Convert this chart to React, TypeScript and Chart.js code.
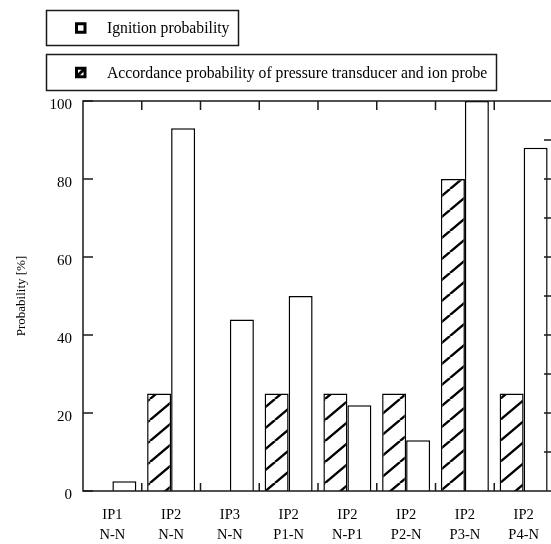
import React, { useEffect, useRef } from "react";
import { Chart, registerables } from "chart.js";

Chart.register(...registerables);

const categories: string[][] = [
  ["IP1", "N-N"],
  ["IP2", "N-N"],
  ["IP3", "N-N"],
  ["IP2", "P1-N"],
  ["IP2", "N-P1"],
  ["IP2", "P2-N"],
  ["IP2", "P3-N"],
  ["IP2", "P4-N"],
];
const accordanceProbability = [0, 25, 0, 25, 25, 25, 80, 25];
const ignitionProbability = [2.5, 93, 44, 50, 22, 13, 100, 88];
const accordanceLabel = "Accordance probability of pressure transducer and ion probe";
const ignitionLabel = "Ignition probability";
const yAxisTitle = "Probability [%]";
const yMin = 0;
const yMax = 100;
const yStep = 20;
const yMinorStep = 10;

const FONT = "'Liberation Serif', 'Times New Roman', serif";

function makeHatch(): CanvasPattern | string {
  const W = 25;
  const H = 21;
  const c = document.createElement("canvas");
  c.width = W;
  c.height = H;
  const g = c.getContext("2d");
  if (!g) return "#fff";
  g.fillStyle = "#fff";
  g.fillRect(0, 0, W, H);
  g.strokeStyle = "#000";
  g.lineWidth = 2.4;
  g.beginPath();
  for (const dx of [-W, 0, W]) {
    g.moveTo(dx, H);
    g.lineTo(dx + W, 0);
  }
  g.stroke();
  const p = g.createPattern(c, "repeat");
  return p || "#fff";
}

const framePlugin = {
  id: "frame",
  afterDatasetsDraw(chart: any) {
    const { ctx, chartArea, scales } = chart;
    const { left, right, top, bottom } = chartArea;
    const x = scales.x;
    const y = scales.y;
    ctx.save();
    ctx.strokeStyle = "#1a1a1a";
    ctx.lineWidth = 1.5;
    ctx.beginPath();
    ctx.rect(left, top, right - left, bottom - top);
    ctx.stroke();
    ctx.beginPath();
    for (let v = yMin; v <= yMax; v += yStep) {
      const py = y.getPixelForValue(v);
      ctx.moveTo(left, py);
      ctx.lineTo(left + 10, py);
    }
    for (let v = yMin + yMinorStep; v < yMax; v += yMinorStep) {
      const py = y.getPixelForValue(v);
      ctx.moveTo(right, py);
      ctx.lineTo(right - 9, py);
    }
    const n = categories.length;
    for (let i = 0; i < n - 1; i++) {
      const bx = (x.getPixelForValue(i) + x.getPixelForValue(i + 1)) / 2;
      ctx.moveTo(bx, top);
      ctx.lineTo(bx, top + 9);
      ctx.moveTo(bx, bottom);
      ctx.lineTo(bx, bottom - 8);
    }
    ctx.stroke();
    ctx.restore();
  },
};

const legendPlugin = {
  id: "boxLegend",
  afterDraw(chart: any) {
    const { ctx } = chart;
    const ds = chart.data.datasets;
    const boxes = [
      { label: ds[1].label, x: 46.5, y: 10.5, w: 192, h: 35, hatched: false },
      { label: ds[0].label, x: 46.5, y: 54.5, w: 450, h: 36, hatched: true },
    ];
    ctx.save();
    for (const b of boxes) {
      ctx.strokeStyle = "#1a1a1a";
      ctx.lineWidth = 1.5;
      ctx.strokeRect(b.x, b.y, b.w, b.h);
      const cy = b.y + b.h / 2;
      const sx = 76.5;
      const s = 8.5;
      ctx.lineWidth = 3;
      ctx.strokeStyle = "#000";
      ctx.fillStyle = "#fff";
      ctx.fillRect(sx, cy - s / 2, s, s);
      ctx.strokeRect(sx, cy - s / 2, s, s);
      if (b.hatched) {
        ctx.beginPath();
        ctx.moveTo(sx, cy + s / 2);
        ctx.lineTo(sx + s, cy - s / 2);
        ctx.stroke();
      }
      ctx.fillStyle = "#000";
      ctx.font = `15.7px ${FONT}`;
      ctx.textAlign = "left";
      ctx.textBaseline = "middle";
      ctx.fillText(b.label, 107, cy + 1);
    }
    ctx.restore();
  },
};

export default function App() {
  const ref = useRef<HTMLCanvasElement>(null);
  useEffect(() => {
    if (!ref.current) return;
    const hatch = makeHatch();
    const chart = new Chart(ref.current, {
      type: "bar",
      data: {
        labels: categories,
        datasets: [
          {
            label: accordanceLabel,
            data: accordanceProbability,
            backgroundColor: hatch as any,
            borderColor: "#000",
            borderWidth: 1.5,
            borderSkipped: "bottom",
            barPercentage: 1,
            categoryPercentage: 0.817,
          },
          {
            label: ignitionLabel,
            data: ignitionProbability,
            backgroundColor: "#fff",
            borderColor: "#000",
            borderWidth: 1.5,
            borderSkipped: "bottom",
            barPercentage: 1,
            categoryPercentage: 0.817,
          },
        ],
      },
      options: {
        animation: false,
        responsive: false,
        maintainAspectRatio: false,
        layout: { padding: { top: 101, right: 3, left: 0, bottom: 0 } },
        plugins: {
          legend: { display: false },
          tooltip: { enabled: false },
        },
        scales: {
          x: {
            grid: { display: false, drawTicks: false },
            border: { display: false },
            ticks: {
              color: "#000",
              font: { family: FONT, size: 14.5, lineHeight: 1.4 },
              padding: 14,
              maxRotation: 0,
              autoSkip: false,
            },
            afterFit: (s: any) => {
              s.height = 53;
            },
          },
          y: {
            min: yMin,
            max: yMax,
            grid: { display: false, drawTicks: false },
            border: { display: false },
            ticks: {
              stepSize: yStep,
              color: "#000",
              font: { family: FONT, size: 15 },
              padding: 11,
              labelOffset: 4,
            },
            title: {
              display: true,
              text: yAxisTitle,
              color: "#000",
              font: { family: FONT, size: 13 },
              padding: { top: 14, bottom: 0 },
            },
            afterFit: (s: any) => {
              s.width = 83;
            },
          },
        },
      },
      plugins: [framePlugin, legendPlugin],
    });
    return () => chart.destroy();
  }, []);
  return (
    <div
      style={{
        position: "absolute",
        left: 0,
        top: 0,
        width: 551,
        height: 544,
        overflow: "hidden",
        background: "#fff",
      }}
    >
      <canvas ref={ref} width={556} height={544} style={{ width: 556, height: 544, display: "block" }} />
    </div>
  );
}
